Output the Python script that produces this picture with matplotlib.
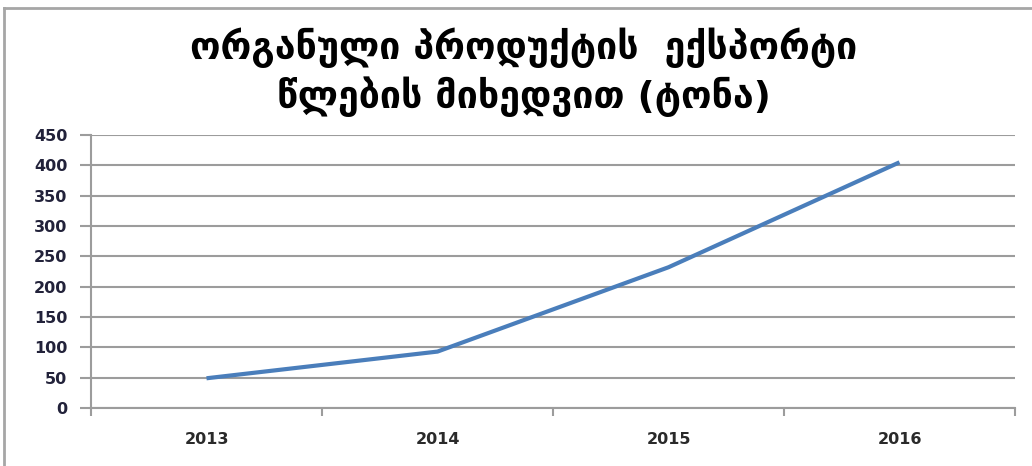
import numpy as np
import matplotlib.pyplot as plt
from matplotlib.lines import Line2D

# data
years = ['2013', '2014', '2015', '2016']
tonnes = [49, 93, 232, 405]
y_ticks = [0, 50, 100, 150, 200, 250, 300, 350, 400, 450]
title = 'ორგანული პროდუქტის  ექსპორტი\nწლების მიხედვით (ტონა)'

W, H = 1032, 466
fig = plt.figure(figsize=(W / 100, H / 100), dpi=100)
plt.rcParams['font.family'] = ['DejaVu Sans']

# outer chart frame (only top and left edges visible)
fig.add_artist(Line2D([4 / W, 4 / W], [0, 1 - 8 / H], color='#a6a6a6', lw=2,
                      transform=fig.transFigure))
fig.add_artist(Line2D([4 / W, 1], [1 - 8 / H, 1 - 8 / H], color='#a6a6a6', lw=2,
                      transform=fig.transFigure))

ax = fig.add_axes([91 / W, 1 - 408 / H, (1015 - 91) / W, (408 - 135) / H])

x = np.arange(1, len(years) + 1)
ax.plot(x, tonnes, color='#4a7ebb', lw=3, solid_capstyle='butt')

ax.set_xlim(0.5, len(years) + 0.5)
ax.set_ylim(0, 450)
ax.set_yticks(y_ticks)
ax.set_yticklabels([str(v) for v in y_ticks], fontweight='bold')
ax.set_xticks(np.arange(0.5, len(years) + 1, 1))
ax.set_xticklabels([])
ax.set_xticks(x, minor=True)
ax.set_xticklabels(years, minor=True, fontweight='bold')

grid_c = '#9c9c9c'
ax.yaxis.grid(True, color=grid_c, lw=1.5)
ax.set_axisbelow(True)
for s in ['top', 'right']:
    ax.spines[s].set_visible(False)
for s in ['left', 'bottom']:
    ax.spines[s].set_color(grid_c)
    ax.spines[s].set_linewidth(1.5)

ax.tick_params(axis='y', which='major', length=8, width=1.5, color=grid_c,
               labelsize=11.5, labelcolor='#22223a', pad=9)
ax.tick_params(axis='x', which='major', length=6, width=1.5, color=grid_c)
ax.tick_params(axis='x', which='minor', length=0, labelsize=11.5,
               labelcolor='#2a2a2a', pad=17)

fig.text(524 / W, 1 - 72 / H, title, ha='center', va='center', fontsize=27,
         fontweight='bold', linespacing=1.25, color='black')

fig.savefig('out.png', dpi=100)
